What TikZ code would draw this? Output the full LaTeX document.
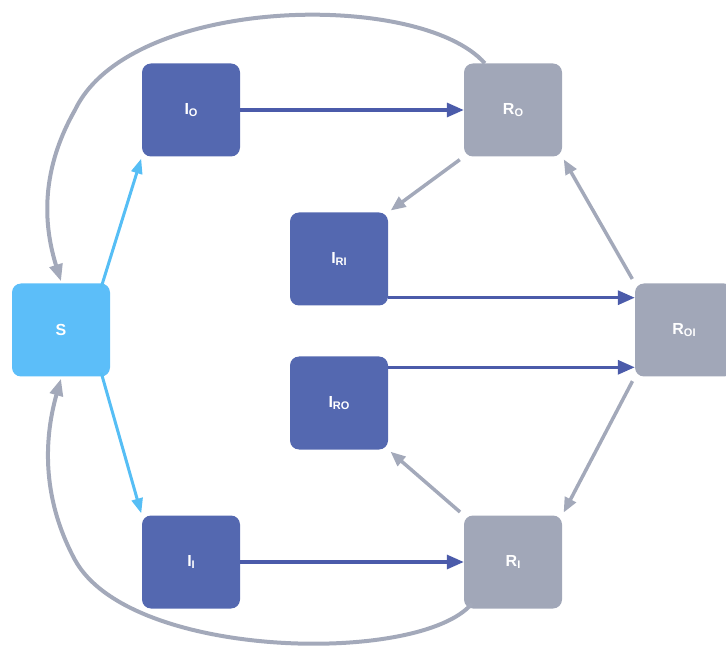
\documentclass[tikz,border=0pt]{standalone}
\usepackage{fontspec}
\setmainfont{Liberation Sans}
\usetikzlibrary{arrows.meta}
\definecolor{sblue}{RGB}{92,190,249}
\definecolor{iblue}{RGB}{84,104,176}
\definecolor{rgray}{RGB}{161,167,184}
\definecolor{dline}{RGB}{75,91,170}
\definecolor{gline}{RGB}{163,169,186}
\definecolor{bline}{RGB}{86,190,245}
\newcommand{\subtxt}[1]{\raisebox{-2pt}{\fontsize{11}{11}\selectfont #1}}

\begin{document}
\begin{tikzpicture}[x=1pt,y=-1pt,
box/.style={rounded corners=9pt,minimum width=98pt,minimum height=93pt,inner sep=0pt,text=white,font=\fontsize{16}{16}\selectfont\bfseries},
sbox/.style={box,fill=sblue},
ibox/.style={box,fill=iblue},
rbox/.style={box,fill=rgray},
barr/.style={bline,line width=3pt,-{Triangle[length=15pt,width=11pt]},shorten >=2pt},
darr/.style={dline,line width=3.2pt,-{Triangle[length=17pt,width=14pt]}},
garr/.style={gline,line width=3.5pt,-{Triangle[length=15pt,width=12pt]},shorten <=5pt,shorten >=3pt},
curv/.style={gline,line width=4pt,-{Triangle[length=17pt,width=13pt]}}]

\useasboundingbox (0,0) rectangle (726,652);

\node[sbox] (s) at (61,330) {S};
\node[ibox] (io) at (191,110) {I\subtxt{O}};
\node[rbox] (ro) at (513,110) {R\subtxt{O}};
\node[ibox] (iri) at (339,259) {I\subtxt{RI}};
\node[ibox] (iro) at (339,403) {I\subtxt{RO}};
\node[rbox] (roi) at (684,330) {R\subtxt{OI}};
\node[ibox] (ii) at (191,562) {I\subtxt{I}};
\node[rbox] (ri) at (513,562) {R\subtxt{I}};

\coordinate (a1) at ([yshift=8pt]iri.south east);
\coordinate (a2) at ([yshift=-11pt]iro.north east);
\coordinate (b1) at ([xshift=-9pt,yshift=-4pt]s.north east);
\coordinate (b2) at ([xshift=-9pt,yshift=4pt]s.south east);
\coordinate (c1) at ([xshift=21pt]ro.north west);
\coordinate (c2) at ([xshift=8pt,yshift=5pt]ri.south west);
\coordinate (c3) at ([yshift=2pt]s.north);
\coordinate (c4) at ([yshift=-2pt]s.south);

\draw[barr] (b1) -- (io.south west);
\draw[barr] (b2) -- (ii.north west);
\draw[darr] (io.east) -- (ro.west);
\draw[darr] (ii.east) -- (ri.west);
\draw[darr] (a1) -- (a1 -| roi.west);
\draw[darr] (a2) -- (a2 -| roi.west);
\draw[garr] (ro.south west) -- (iri.north east);
\draw[garr] (roi.north west) -- (ro.south east);
\draw[garr] (roi.south west) -- (ri.north east);
\draw[garr] (ri.north west) -- (iro.south east);
\draw[curv] (c1) .. controls (420,-10) and (130,-5) .. (75,110) .. controls (38,175) and (45,230) .. (c3);
\draw[curv] (c2) .. controls (420,665) and (130,660) .. (75,560) .. controls (40,495) and (45,435) .. (c4);
\end{tikzpicture}
\end{document}
